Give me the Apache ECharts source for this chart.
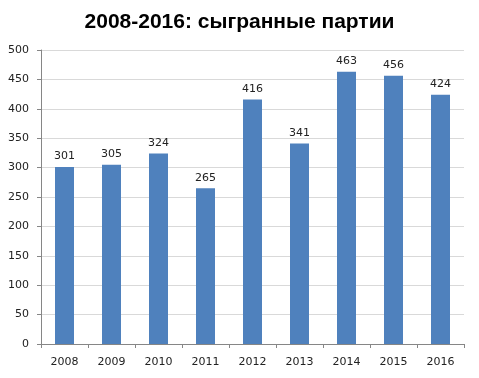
<!DOCTYPE html>
<html><head><meta charset="utf-8">
<script src="https://cdn.jsdelivr.net/npm/echarts@6/dist/echarts.min.js"></script>
<style>html,body{margin:0;padding:0;background:#fff}#c{width:479px;height:378px}</style>
</head><body><div id="c"></div>
<script>
const categories = ['2008','2009','2010','2011','2012','2013','2014','2015','2016'];
const games = [301,305,324,265,416,341,463,456,424];
const titleText = '2008-2016: сыгранные партии';

const chart = echarts.init(document.getElementById('c'), null, {renderer:'canvas'});
chart.setOption({
  animation:false,
  backgroundColor:'#fff',
  title:{text:titleText,left:'center',top:7,textStyle:{fontFamily:'Liberation Sans',fontWeight:'bold',fontSize:21,color:'#000'}},
  grid:{left:41,right:15,top:50,bottom:34,containLabel:false},
  xAxis:{type:'category',data:categories,
    axisLine:{lineStyle:{color:'#868686'}},
    axisTick:{show:true,alignWithLabel:false,length:4,lineStyle:{color:'#868686'}},
    axisLabel:{fontFamily:'DejaVu Sans',fontSize:11,color:'#222',margin:13}},
  yAxis:{type:'value',min:0,max:500,interval:50,
    axisLine:{show:true,lineStyle:{color:'#868686'}},
    axisTick:{show:true,length:4,lineStyle:{color:'#868686'}},
    splitLine:{lineStyle:{color:'#d9d9d9'}},
    axisLabel:{fontFamily:'DejaVu Sans',fontSize:11,color:'#222',margin:12}},
  series:[{type:'bar',data:games,barWidth:19,itemStyle:{color:'#4f81bd'},
    label:{show:true,position:'top',distance:5,fontFamily:'DejaVu Sans',fontSize:11,color:'#222'}}]
});
</script></body></html>
